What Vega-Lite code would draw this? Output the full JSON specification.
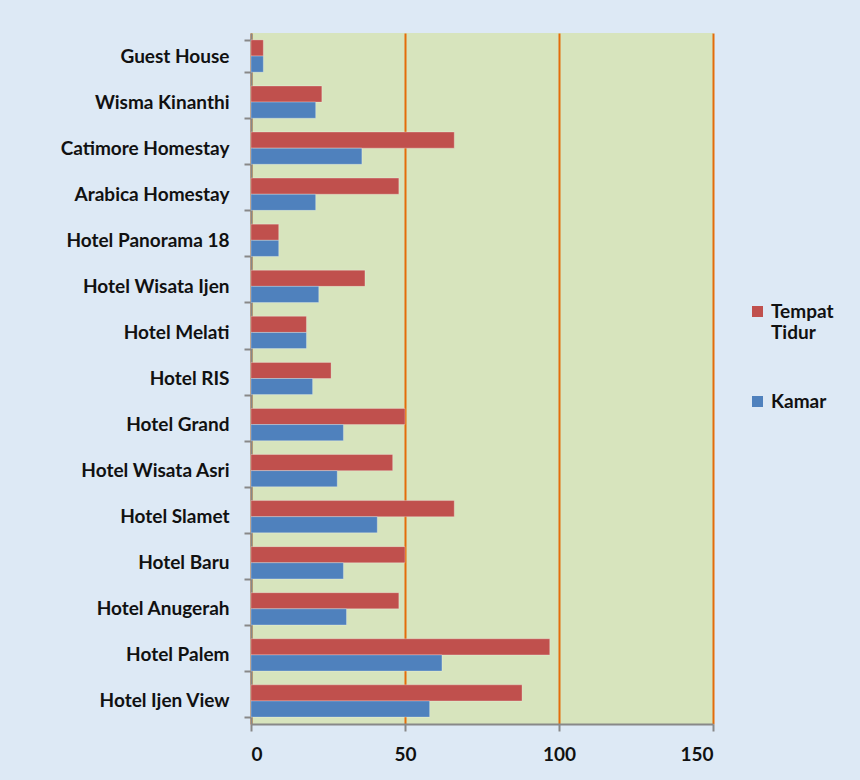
{
  "$schema": "https://vega.github.io/schema/vega-lite/v6.json",
  "width": 462,
  "height": 691,
  "padding": {"left": 251, "top": 33, "right": 147, "bottom": 56},
  "autosize": {"type": "none"},
  "background": "#dde9f5",
  "config": {
    "view": {"fill": "#d7e4bd", "stroke": null},
    "font": "Lato"
  },
  "data": {
    "values": [
      {"hotel": "Guest House", "seri": "Tempat Tidur", "nilai": 4},
      {"hotel": "Guest House", "seri": "Kamar", "nilai": 4},
      {"hotel": "Wisma Kinanthi", "seri": "Tempat Tidur", "nilai": 23},
      {"hotel": "Wisma Kinanthi", "seri": "Kamar", "nilai": 21},
      {"hotel": "Catimore Homestay", "seri": "Tempat Tidur", "nilai": 66},
      {"hotel": "Catimore Homestay", "seri": "Kamar", "nilai": 36},
      {"hotel": "Arabica Homestay", "seri": "Tempat Tidur", "nilai": 48},
      {"hotel": "Arabica Homestay", "seri": "Kamar", "nilai": 21},
      {"hotel": "Hotel Panorama 18", "seri": "Tempat Tidur", "nilai": 9},
      {"hotel": "Hotel Panorama 18", "seri": "Kamar", "nilai": 9},
      {"hotel": "Hotel Wisata Ijen", "seri": "Tempat Tidur", "nilai": 37},
      {"hotel": "Hotel Wisata Ijen", "seri": "Kamar", "nilai": 22},
      {"hotel": "Hotel Melati", "seri": "Tempat Tidur", "nilai": 18},
      {"hotel": "Hotel Melati", "seri": "Kamar", "nilai": 18},
      {"hotel": "Hotel RIS", "seri": "Tempat Tidur", "nilai": 26},
      {"hotel": "Hotel RIS", "seri": "Kamar", "nilai": 20},
      {"hotel": "Hotel Grand", "seri": "Tempat Tidur", "nilai": 50},
      {"hotel": "Hotel Grand", "seri": "Kamar", "nilai": 30},
      {"hotel": "Hotel Wisata Asri", "seri": "Tempat Tidur", "nilai": 46},
      {"hotel": "Hotel Wisata Asri", "seri": "Kamar", "nilai": 28},
      {"hotel": "Hotel Slamet", "seri": "Tempat Tidur", "nilai": 66},
      {"hotel": "Hotel Slamet", "seri": "Kamar", "nilai": 41},
      {"hotel": "Hotel Baru", "seri": "Tempat Tidur", "nilai": 50},
      {"hotel": "Hotel Baru", "seri": "Kamar", "nilai": 30},
      {"hotel": "Hotel Anugerah", "seri": "Tempat Tidur", "nilai": 48},
      {"hotel": "Hotel Anugerah", "seri": "Kamar", "nilai": 31},
      {"hotel": "Hotel Palem", "seri": "Tempat Tidur", "nilai": 97},
      {"hotel": "Hotel Palem", "seri": "Kamar", "nilai": 62},
      {"hotel": "Hotel Ijen View", "seri": "Tempat Tidur", "nilai": 88},
      {"hotel": "Hotel Ijen View", "seri": "Kamar", "nilai": 58}
    ]
  },
  "mark": {"type": "bar", "stroke": "#ffffff", "strokeOpacity": 0.35, "strokeWidth": 0.8},
  "encoding": {
    "y": {
      "field": "hotel",
      "type": "nominal",
      "sort": null,
      "title": null,
      "scale": {"paddingInner": 0.3, "paddingOuter": 0.15},
      "axis": {
        "tickBand": "extent",
        "domainColor": "#888888",
        "domainWidth": 2,
        "tickColor": "#888888",
        "tickWidth": 2,
        "tickSize": 7,
        "labelFont": "Lato",
        "labelFontWeight": "bold",
        "labelFontSize": 19,
        "labelColor": "#111111",
        "labelPadding": 15
      }
    },
    "yOffset": {
      "field": "seri",
      "type": "nominal",
      "sort": ["Tempat Tidur", "Kamar"]
    },
    "x": {
      "field": "nilai",
      "type": "quantitative",
      "title": null,
      "scale": {"domain": [0, 150], "nice": false},
      "axis": {
        "values": [0, 50, 100, 150],
        "grid": true,
        "gridColor": "#e46c0a",
        "gridWidth": 2,
        "gridOpacity": 1,
        "domainColor": "#888888",
        "domainWidth": 2,
        "tickColor": "#888888",
        "tickWidth": 2,
        "tickSize": 7,
        "labelFont": "Lato",
        "labelFontWeight": "bold",
        "labelFontSize": 19,
        "labelColor": "#111111",
        "labelPadding": 14
      }
    },
    "color": {
      "field": "seri",
      "type": "nominal",
      "title": null,
      "scale": {"domain": ["Tempat Tidur", "Kamar"], "range": ["#c0504d", "#4f81bd"]},
      "legend": {
        "orient": "none",
        "legendX": 497,
        "legendY": 269,
        "symbolType": "square",
        "symbolSize": 121,
        "symbolStrokeWidth": 0,
        "labelFont": "Lato",
        "labelFontWeight": "bold",
        "labelFontSize": 19,
        "labelColor": "#111111",
        "labelOffset": 4,
        "labelLineHeight": 25,
        "rowPadding": 49,
        "labelExpr": "datum.label == 'Tempat Tidur' ? ['Tempat', 'Tidur'] : datum.label",
        "labelBaseline": "middle"
      }
    }
  }
}
